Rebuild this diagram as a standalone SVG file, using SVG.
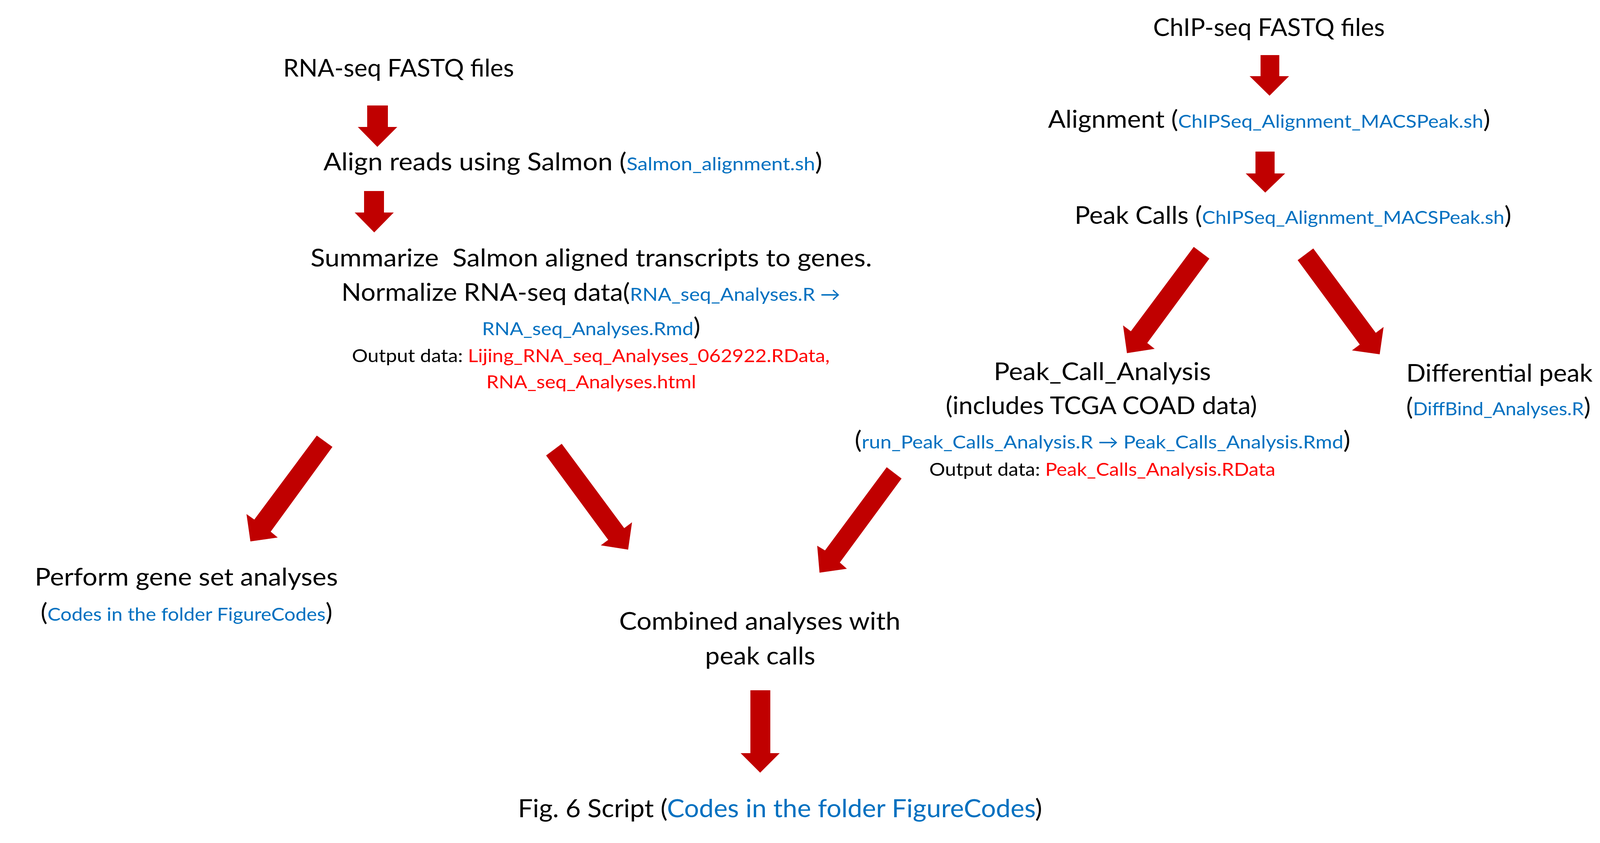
<svg xmlns="http://www.w3.org/2000/svg" width="4125" height="2158" viewBox="0 0 4125 2158">
<style>
text { font-family: Lato, "Liberation Sans", "DejaVu Sans", sans-serif; font-size: 61px; fill: #000000; white-space: pre; }
.M { font-size: 47px; }
.F { font-size: 64px; }
.b { fill: #0070C0; }
.r { fill: #FF0000; }
.arrow { fill: #C00000; stroke: none; }
</style>
<rect x="0" y="0" width="4125" height="2158" fill="#FFFFFF"/>
<g id="connectors">
<polygon class="arrow" points="940,270 993,270 993,325 1017,325 966,376 916,325 940,325"/>
<polygon class="arrow" points="932,489 983,489 983,544 1008,544 958,595 908,544 932,544"/>
<polygon class="arrow" points="3227,141 3275,141 3275,195 3300,195 3250,245 3199,195 3227,195"/>
<polygon class="arrow" points="3214,388 3263,388 3263,444 3290,444 3239,493 3189,444 3214,444"/>
<polygon class="arrow" points="1921,1767 1972,1767 1972,1928 1996,1928 1946,1978 1896,1928 1921,1928"/>
<polygon class="arrow" points="811,1115 851,1144 693,1361 711,1376 641,1386 631,1316 651,1330"/>
<polygon class="arrow" points="1438,1136 1598,1352 1618,1337 1608,1407 1538,1396 1557,1382 1398,1166"/>
<polygon class="arrow" points="2270,1196 2308,1225 2150,1440 2168,1456 2098,1466 2092,1397 2112,1409"/>
<polygon class="arrow" points="3056,632 3096,662 2937,878 2956,893 2885,904 2875,833 2895,848"/>
<polygon class="arrow" points="3362,636 3522,852 3542,837 3532,907 3461,897 3481,882 3322,666"/>
</g>
<g id="rnaseq-fastq">
<text x="725" y="196" textLength="591" lengthAdjust="spacingAndGlyphs">RNA-seq FASTQ files</text>
</g>
<g id="salmon-align">
<text x="828" y="436" textLength="1277" lengthAdjust="spacingAndGlyphs">Align reads using Salmon (<tspan class="M b">Salmon_alignment.sh</tspan>)</text>
</g>
<g id="summarize">
<text x="795" y="682" textLength="1437" lengthAdjust="spacingAndGlyphs">Summarize  Salmon aligned transcripts to genes.</text>
<text x="874" y="770" textLength="1277" lengthAdjust="spacingAndGlyphs">Normalize RNA-seq data(<tspan class="M b">RNA_seq_Analyses.R →</tspan></text>
<text x="1234" y="858" textLength="559" lengthAdjust="spacingAndGlyphs"><tspan class="M b">RNA_seq_Analyses.Rmd</tspan>)</text>
<text x="901" y="927" textLength="1223" lengthAdjust="spacingAndGlyphs"><tspan class="M">Output data: </tspan><tspan class="M r">Lijing_RNA_seq_Analyses_062922.RData,</tspan></text>
<text x="1245" y="994" textLength="537" lengthAdjust="spacingAndGlyphs"><tspan class="M r">RNA_seq_Analyses.html</tspan></text>
</g>
<g id="chipseq-fastq">
<text x="2952" y="92" textLength="593" lengthAdjust="spacingAndGlyphs">ChIP-seq FASTQ files</text>
</g>
<g id="alignment">
<text x="2683" y="327" textLength="1132" lengthAdjust="spacingAndGlyphs">Alignment (<tspan class="M b">ChIPSeq_Alignment_MACSPeak.sh</tspan>)</text>
</g>
<g id="peak-calls">
<text x="2751" y="573" textLength="1118" lengthAdjust="spacingAndGlyphs">Peak Calls (<tspan class="M b">ChIPSeq_Alignment_MACSPeak.sh</tspan>)</text>
</g>
<g id="peak-call-analysis">
<text x="2544" y="973" textLength="556" lengthAdjust="spacingAndGlyphs">Peak_Call_Analysis</text>
<text x="2421" y="1060" textLength="797" lengthAdjust="spacingAndGlyphs">(includes TCGA COAD data)</text>
<text x="2188" y="1148" textLength="1269" lengthAdjust="spacingAndGlyphs">(<tspan class="M b">run_Peak_Calls_Analysis.R → Peak_Calls_Analysis.Rmd</tspan>)</text>
<text x="2379" y="1218" textLength="886" lengthAdjust="spacingAndGlyphs"><tspan class="M">Output data: </tspan><tspan class="M r">Peak_Calls_Analysis.RData</tspan></text>
</g>
<g id="differential-peak">
<text x="3600" y="977" textLength="477" lengthAdjust="spacingAndGlyphs">Differential peak</text>
<text x="3600" y="1063" textLength="472" lengthAdjust="spacingAndGlyphs">(<tspan class="M b">DiffBind_Analyses.R</tspan>)</text>
</g>
<g id="gene-set">
<text x="89" y="1499" textLength="776" lengthAdjust="spacingAndGlyphs">Perform gene set analyses</text>
<text x="104" y="1589" textLength="747" lengthAdjust="spacingAndGlyphs">(<tspan class="M b">Codes in the folder FigureCodes</tspan>)</text>
</g>
<g id="combined">
<text x="1585" y="1612" textLength="720" lengthAdjust="spacingAndGlyphs">Combined analyses with</text>
<text x="1805" y="1701" textLength="282" lengthAdjust="spacingAndGlyphs">peak calls</text>
</g>
<g id="fig6">
<text class="F" x="1326" y="2092" textLength="1342" lengthAdjust="spacingAndGlyphs">Fig. 6 Script (<tspan class="b">Codes in the folder FigureCodes</tspan>)</text>
</g>
</svg>
